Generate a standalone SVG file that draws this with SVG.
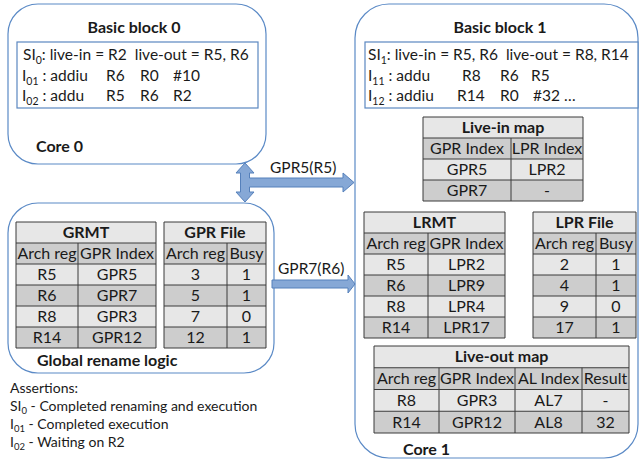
<svg xmlns="http://www.w3.org/2000/svg" width="640" height="460" viewBox="0 0 640 460">
<style>
text{font-family:Lato,"Liberation Sans",sans-serif;fill:#1a1a1a;font-size:15.5px}
.b{font-weight:bold;font-size:16px}
.c{text-anchor:middle}
.t text{font-size:16px}
.t text.b{font-size:16px}
.s{font-size:14px}
.core{fill:#fff;stroke:#5b8ac6;stroke-width:1.2}
.ibox{fill:#fff;stroke:#5b87c0;stroke-width:1.2}
.lt{fill:#e7e7e7}
.dk{fill:#cdcdcd}
.grid{fill:none;stroke:#3a3a3a;stroke-width:1}
.arrow{fill:#86a8d6;stroke:#5580bb;stroke-width:1}
</style>
<rect width="640" height="460" fill="#fff"/>

<g id="core0">
<rect class="core" x="8" y="4" width="258" height="160" rx="30"/>
<text class="b c" x="134" y="33">Basic block 0</text>
<rect class="ibox" x="17" y="42" width="241" height="66"/>
<text x="23" y="60" xml:space="preserve">SI<tspan dy="4" font-size="10.5">0</tspan><tspan dy="-4">: live-in = R2  live-out = R5, R6</tspan></text>
<text x="22" y="81">I<tspan dy="4" font-size="10.5">01</tspan><tspan dy="-4"> : addiu</tspan></text>
<text x="106" y="81">R6</text><text x="140" y="81">R0</text><text x="173" y="81">#10</text>
<text x="22" y="101">I<tspan dy="4" font-size="10.5">02</tspan><tspan dy="-4"> : addu</tspan></text>
<text x="106" y="101">R5</text><text x="140" y="101">R6</text><text x="173" y="101">R2</text>
<text class="b" x="36" y="152">Core 0</text>
</g>

<g id="core1">
<rect class="core" x="355" y="4" width="283" height="454" rx="34"/>
<text class="b c" x="500" y="33">Basic block 1</text>
<rect class="ibox" x="365" y="42" width="273" height="66"/>
<text x="368" y="60" xml:space="preserve">SI<tspan dy="4" font-size="10.5">1</tspan><tspan dy="-4">: live-in = R5, R6  live-out = R8, R14</tspan></text>
<text x="368" y="81">I<tspan dy="4" font-size="10.5">11</tspan><tspan dy="-4"> : addu</tspan></text>
<text x="462" y="81">R8</text><text x="500" y="81">R6</text><text x="531" y="81">R5</text>
<text x="368" y="101">I<tspan dy="4" font-size="10.5">12</tspan><tspan dy="-4"> : addiu</tspan></text>
<text x="457" y="101">R14</text><text x="500" y="101">R0</text><text x="533" y="101">#32 …</text>
<text class="b" x="403" y="455">Core 1</text>
</g>

<g id="global-rename-logic">
<rect class="core" x="8" y="203" width="266" height="170" rx="30"/>
<text class="b" x="37" y="366">Global rename logic</text>
</g>

<g id="livein-map" class="t">
<rect class="lt" x="423" y="117" width="160" height="21"/>
<rect class="dk" x="423" y="138" width="160" height="21"/>
<rect class="lt" x="423" y="159" width="160" height="21"/>
<rect class="dk" x="423" y="180" width="160" height="21"/>
<path class="grid" d="M423,117H583V201H423Z M423,138H583 M423,159H583 M423,180H583 M511,138V201"/>
<text class="b c" x="503" y="133">Live-in map</text>
<text class="c" x="467" y="154">GPR Index</text><text class="c" x="547" y="154">LPR Index</text>
<text class="c" x="467" y="175">GPR5</text><text class="c" x="547" y="175">LPR2</text>
<text class="c" x="467" y="196">GPR7</text><text class="c" x="547" y="196">-</text>
</g>

<g id="grmt" class="t">
<rect class="lt" x="16" y="222" width="140" height="21"/>
<rect class="dk" x="16" y="243" width="140" height="21"/>
<rect class="lt" x="16" y="264" width="140" height="21"/>
<rect class="dk" x="16" y="285" width="140" height="21"/>
<rect class="lt" x="16" y="306" width="140" height="21"/>
<rect class="dk" x="16" y="327" width="140" height="21"/>
<path class="grid" d="M16,222H156V348H16Z M16,243H156 M16,264H156 M16,285H156 M16,306H156 M16,327H156 M78,243V348"/>
<text class="b c" x="86" y="238">GRMT</text>
<text class="c" x="47" y="259">Arch reg</text><text class="c" x="117" y="259">GPR Index</text>
<text class="c" x="47" y="280">R5</text><text class="c" x="117" y="280">GPR5</text>
<text class="c" x="47" y="301">R6</text><text class="c" x="117" y="301">GPR7</text>
<text class="c" x="47" y="322">R8</text><text class="c" x="117" y="322">GPR3</text>
<text class="c" x="47" y="343">R14</text><text class="c" x="117" y="343">GPR12</text>
</g>

<g id="gpr-file" class="t">
<rect class="lt" x="164" y="222" width="102" height="21"/>
<rect class="dk" x="164" y="243" width="102" height="21"/>
<rect class="lt" x="164" y="264" width="102" height="21"/>
<rect class="dk" x="164" y="285" width="102" height="21"/>
<rect class="lt" x="164" y="306" width="102" height="21"/>
<rect class="dk" x="164" y="327" width="102" height="21"/>
<path class="grid" d="M164,222H266V348H164Z M164,243H266 M164,264H266 M164,285H266 M164,306H266 M164,327H266 M227,243V348"/>
<text class="b c" x="215" y="238">GPR File</text>
<text class="c" x="195.5" y="259">Arch reg</text><text class="c" x="246.5" y="259">Busy</text>
<text class="c" x="195.5" y="280">3</text><text class="c" x="246.5" y="280">1</text>
<text class="c" x="195.5" y="301">5</text><text class="c" x="246.5" y="301">1</text>
<text class="c" x="195.5" y="322">7</text><text class="c" x="246.5" y="322">0</text>
<text class="c" x="195.5" y="343">12</text><text class="c" x="246.5" y="343">1</text>
</g>

<g id="lrmt" class="t">
<rect class="lt" x="364" y="212" width="141" height="21"/>
<rect class="dk" x="364" y="233" width="141" height="21"/>
<rect class="lt" x="364" y="254" width="141" height="21"/>
<rect class="dk" x="364" y="275" width="141" height="21"/>
<rect class="lt" x="364" y="296" width="141" height="21"/>
<rect class="dk" x="364" y="317" width="141" height="21"/>
<path class="grid" d="M364,212H505V338H364Z M364,233H505 M364,254H505 M364,275H505 M364,296H505 M364,317H505 M428,233V338"/>
<text class="b c" x="434.5" y="228">LRMT</text>
<text class="c" x="396" y="249">Arch reg</text><text class="c" x="466.5" y="249">GPR Index</text>
<text class="c" x="396" y="270">R5</text><text class="c" x="466.5" y="270">LPR2</text>
<text class="c" x="396" y="291">R6</text><text class="c" x="466.5" y="291">LPR9</text>
<text class="c" x="396" y="312">R8</text><text class="c" x="466.5" y="312">LPR4</text>
<text class="c" x="396" y="333">R14</text><text class="c" x="466.5" y="333">LPR17</text>
</g>

<g id="lpr-file" class="t">
<rect class="lt" x="533" y="212" width="103" height="21"/>
<rect class="dk" x="533" y="233" width="103" height="21"/>
<rect class="lt" x="533" y="254" width="103" height="21"/>
<rect class="dk" x="533" y="275" width="103" height="21"/>
<rect class="lt" x="533" y="296" width="103" height="21"/>
<rect class="dk" x="533" y="317" width="103" height="21"/>
<path class="grid" d="M533,212H636V338H533Z M533,233H636 M533,254H636 M533,275H636 M533,296H636 M533,317H636 M596,233V338"/>
<text class="b c" x="584.5" y="228">LPR File</text>
<text class="c" x="564.5" y="249">Arch reg</text><text class="c" x="616" y="249">Busy</text>
<text class="c" x="564.5" y="270">2</text><text class="c" x="616" y="270">1</text>
<text class="c" x="564.5" y="291">4</text><text class="c" x="616" y="291">1</text>
<text class="c" x="564.5" y="312">9</text><text class="c" x="616" y="312">0</text>
<text class="c" x="564.5" y="333">17</text><text class="c" x="616" y="333">1</text>
</g>

<g id="liveout-map" class="t">
<rect class="lt" x="374" y="346" width="255" height="21.75"/>
<rect class="dk" x="374" y="367.75" width="255" height="21.75"/>
<rect class="lt" x="374" y="389.5" width="255" height="21.75"/>
<rect class="dk" x="374" y="411.25" width="255" height="21.75"/>
<path class="grid" d="M374,346H629V433H374Z M374,367.75H629 M374,389.5H629 M374,411.25H629 M439,367.75V433 M515,367.75V433 M582,367.75V433"/>
<text class="b c" x="501.5" y="362">Live-out map</text>
<text class="c" x="406.5" y="384">Arch reg</text><text class="c" x="477" y="384">GPR Index</text><text class="c" x="548.5" y="384">AL Index</text><text class="c" x="605.5" y="384">Result</text>
<text class="c" x="406.5" y="406">R8</text><text class="c" x="477" y="406">GPR3</text><text class="c" x="548.5" y="406">AL7</text><text class="c" x="605.5" y="406">-</text>
<text class="c" x="406.5" y="428">R14</text><text class="c" x="477" y="428">GPR12</text><text class="c" x="548.5" y="428">AL8</text><text class="c" x="605.5" y="428">32</text>
</g>

<g id="connectors">
<path class="arrow" d="M245,163 L254,173 L249.5,173 L249.5,178 L343,178 L343,173 L354,182.5 L343,192 L343,187 L249.5,187 L249.5,192 L254,192 L245,202 L236,192 L240.5,192 L240.5,173 L236,173 Z"/>
<text x="270" y="173">GPR5(R5)</text>
<path class="arrow" d="M272,280 L348,280 L348,275 L355,284 L348,293 L348,288 L272,288 Z"/>
<text x="278" y="274">GPR7(R6)</text>
</g>

<g id="assertions">
<text class="s" x="10" y="393">Assertions:</text>
<text class="s" x="10" y="411">SI<tspan dy="3" font-size="9.5">0</tspan><tspan dy="-3"> - Completed renaming and execution</tspan></text>
<text class="s" x="10" y="429">I<tspan dy="3" font-size="9.5">01</tspan><tspan dy="-3"> - Completed execution</tspan></text>
<text class="s" x="10" y="447">I<tspan dy="3" font-size="9.5">02</tspan><tspan dy="-3"> - Waiting on R2</tspan></text>
</g>
</svg>
